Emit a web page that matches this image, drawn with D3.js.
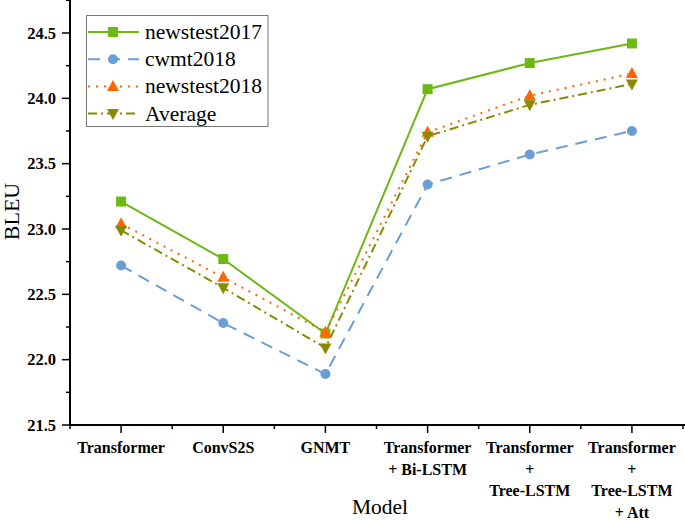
<!DOCTYPE html>
<html><head><meta charset="utf-8">
<script src="https://cdn.jsdelivr.net/npm/d3@7"></script>
<style>body{margin:0;background:#fff}svg{display:block}</style>
</head><body>
<svg id="c" width="685" height="520"></svg>
<script>
const categories = [["Transformer"],["ConvS2S"],["GNMT"],["Transformer","+ Bi-LSTM"],["Transformer","+","Tree-LSTM"],["Transformer","+","Tree-LSTM","+ Att"]];
const newstest2017 = [23.21, 22.77, 22.20, 24.07, 24.27, 24.42];
const cwmt2018 = [22.72, 22.28, 21.89, 23.34, 23.57, 23.75];
const newstest2018 = [23.04, 22.63, 22.21, 23.74, 24.02, 24.19];
const average = [22.99, 22.55, 22.09, 23.71, 23.95, 24.11];
const yTicks = [21.5, 22.0, 22.5, 23.0, 23.5, 24.0, 24.5];

const series = [
  {name:"newstest2017", values:newstest2017, color:"#6eb814", dash:null, marker:"square"},
  {name:"cwmt2018", values:cwmt2018, color:"#6a9fd6", dash:"12,8", marker:"circle"},
  {name:"newstest2018", values:newstest2018, color:"#ff6600", dash:"2,6", marker:"up"},
  {name:"Average", values:average, color:"#8a8a00", dash:"9,4,2,4", marker:"down"}
];

const svg = d3.select("#c");
const L=70, R=683, T=0, B=425;
const x = d3.scaleLinear().domain([-0.5, 5.5]).range([L, R]);
const y = d3.scaleLinear().domain([21.5, 24.5]).range([B, 33]);
const font = "'Liberation Serif','Times New Roman',serif";

// y axis
const ya = svg.append("g").attr("transform",`translate(${L},0)`);
ya.append("line").attr("x1",0).attr("x2",0).attr("y1",T).attr("y2",B).attr("stroke","#000").attr("stroke-width",2);
const yMinor = d3.range(21.75, 24.8, 0.5);
yMinor.forEach(v=>ya.append("line").attr("x1",-4).attr("x2",0).attr("y1",y(v)).attr("y2",y(v)).attr("stroke","#000").attr("stroke-width",1.5));
yTicks.forEach(v=>{
  ya.append("line").attr("x1",-8).attr("x2",0).attr("y1",y(v)).attr("y2",y(v)).attr("stroke","#000").attr("stroke-width",1.5);
  ya.append("text").attr("x",-14).attr("y",y(v)).attr("dy","0.35em").attr("text-anchor","end")
    .attr("font-family",font).attr("font-weight","bold").attr("font-size",16.5).text(v.toFixed(1));
});

// x axis
const xa = svg.append("g").attr("transform",`translate(0,${B})`);
xa.append("line").attr("x1",L).attr("x2",R+2).attr("y1",0).attr("y2",0).attr("stroke","#000").attr("stroke-width",2);
d3.range(-0.5, 5.6, 1).forEach(i=>xa.append("line").attr("x1",x(i)).attr("x2",x(i)).attr("y1",0).attr("y2",4).attr("stroke","#000").attr("stroke-width",1.5));
categories.forEach((lines,i)=>{
  xa.append("line").attr("x1",x(i)).attr("x2",x(i)).attr("y1",0).attr("y2",8).attr("stroke","#000").attr("stroke-width",1.5);
  const t = xa.append("text").attr("text-anchor","middle").attr("font-family",font).attr("font-weight","bold").attr("font-size",16);
  lines.forEach((s,k)=>t.append("tspan").attr("x",x(i)).attr("y",28+k*21.5).text(s));
});

// axis titles
svg.append("text").attr("transform","translate(19,211.5) rotate(-90)").attr("text-anchor","middle")
  .attr("font-family",font).attr("font-size",22).text("BLEU");
svg.append("text").attr("x",380).attr("y",514).attr("text-anchor","middle")
  .attr("font-family",font).attr("font-size",21.5).text("Model");

function drawMarker(g, type, cx, cy, color){
  if(type==="square") g.append("rect").attr("x",cx-5).attr("y",cy-5).attr("width",10).attr("height",10).attr("fill",color);
  else if(type==="circle") g.append("circle").attr("cx",cx).attr("cy",cy).attr("r",5).attr("fill",color);
  else if(type==="up") g.append("path").attr("d",`M${cx},${cy-6.5}L${cx+6},${cy+4.5}L${cx-6},${cy+4.5}Z`).attr("fill",color);
  else g.append("path").attr("d",`M${cx},${cy+6.5}L${cx+6},${cy-4.5}L${cx-6},${cy-4.5}Z`).attr("fill",color);
}

const line = d3.line().x((d,i)=>x(i)).y(d=>y(d));
series.forEach(s=>{
  svg.append("path").attr("d",line(s.values)).attr("fill","none").attr("stroke",s.color).attr("stroke-width",2)
    .attr("stroke-dasharray",s.dash);
});
series.forEach(s=>{
  const g = svg.append("g");
  s.values.forEach((v,i)=>drawMarker(g, s.marker, x(i), y(v), s.color));
});

// legend
const lg = svg.append("g");
lg.append("rect").attr("x",86.5).attr("y",15.5).attr("width",181.5).attr("height",111).attr("fill","#fff").attr("stroke","#777").attr("stroke-width",1);
series.forEach((s,k)=>{
  const yy = 32 + k*27.2;
  lg.append("line").attr("x1",88).attr("x2",139).attr("y1",yy).attr("y2",yy).attr("stroke",s.color).attr("stroke-width",2).attr("stroke-dasharray",s.dash);
  drawMarker(lg, s.marker, 113, yy, s.color);
  lg.append("text").attr("x",145).attr("y",yy).attr("dy","0.33em").attr("font-family",font).attr("font-size",21.5).text(s.name);
});
</script>
</body></html>
